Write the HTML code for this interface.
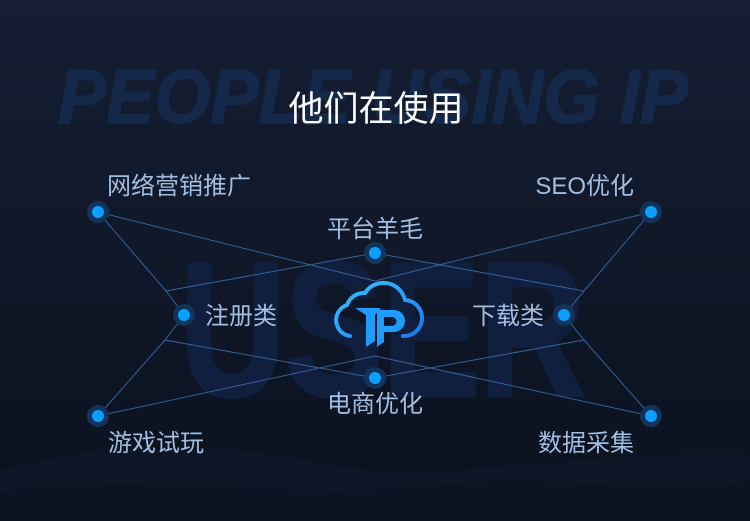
<!DOCTYPE html>
<html><head><meta charset="utf-8"><style>
html,body{margin:0;padding:0;}
body{width:750px;height:521px;overflow:hidden;background:linear-gradient(#151e34,#0b1322);}
svg{display:block}
</style></head><body>
<svg width="750" height="521" viewBox="0 0 750 521" xmlns="http://www.w3.org/2000/svg">
<defs>
<linearGradient id="bg" x1="0" y1="0" x2="0" y2="1"><stop offset="0" stop-color="#151e33"/><stop offset="1" stop-color="#0a111e"/></linearGradient>
<linearGradient id="cl" x1="0" y1="0" x2="1" y2="1"><stop offset="0" stop-color="#35c6ff"/><stop offset="1" stop-color="#1a78f0"/></linearGradient>
</defs>
<rect width="750" height="521" fill="url(#bg)"/>
<path d="M0 470 C120 440 220 445 330 465 C450 485 560 450 750 455 L750 521 L0 521Z" fill="#0e1729" opacity="0.8"/>
<path d="M0 490 C150 470 300 500 420 485 C560 470 650 495 750 480 L750 521 L0 521Z" fill="#0c1424"/>
<text x="58" y="123" font-family="Liberation Sans, sans-serif" font-weight="bold" font-style="italic" font-size="76" fill="#14284a" stroke="#14284a" stroke-width="1.5" textLength="630" lengthAdjust="spacingAndGlyphs">PEOPLE USING IP</text>
<text x="180" y="395" font-family="Liberation Sans, sans-serif" font-weight="bold" font-size="190" fill="#0f1f3d" stroke="#0f1f3d" stroke-width="4" textLength="405" lengthAdjust="spacingAndGlyphs">USER</text>
<text x="376" y="121" text-anchor="middle" font-family="Liberation Sans, Noto Sans CJK SC, sans-serif" font-size="35" fill="#ffffff">他们在使用</text>
<g stroke="#3a6aa8" stroke-width="1" fill="none" opacity="0.9">
<polyline points="98,212 166,291 184,315"/>
<polyline points="98,416 165,340 184,315"/>
<polyline points="166,291 375,253 584,291"/>
<polyline points="165,340 375,378 584,340"/>
<polyline points="98,212 375,281 651,212"/>
<polyline points="98,416 375,356 651,416"/>
<polyline points="651,212 584,291 564,315"/>
<polyline points="651,416 584,340 564,315"/>
</g>
<g fill="#0aa0ff">
<circle cx="98" cy="212" r="11" fill="#12345a"/><circle cx="98" cy="212" r="6"/>
<circle cx="98" cy="416" r="11" fill="#12345a"/><circle cx="98" cy="416" r="6"/>
<circle cx="651" cy="212" r="11" fill="#12345a"/><circle cx="651" cy="212" r="6"/>
<circle cx="651" cy="416" r="11" fill="#12345a"/><circle cx="651" cy="416" r="6"/>
<circle cx="184" cy="315" r="11" fill="#12345a"/><circle cx="184" cy="315" r="6"/>
<circle cx="564" cy="315" r="11" fill="#12345a"/><circle cx="564" cy="315" r="6"/>
<circle cx="375" cy="253" r="11" fill="#12345a"/><circle cx="375" cy="253" r="6"/>
<circle cx="375" cy="378" r="11" fill="#12345a"/><circle cx="375" cy="378" r="6"/>
</g>
<g font-family="Liberation Sans, Noto Sans CJK SC, sans-serif" font-size="24" fill="#a3bde0">
<text x="107" y="194">网络营销推广</text>
<text x="634" y="194" text-anchor="end">SEO优化</text>
<text x="375" y="237" text-anchor="middle">平台羊毛</text>
<text x="205" y="324">注册类</text>
<text x="544" y="324" text-anchor="end">下载类</text>
<text x="375" y="412" text-anchor="middle">电商优化</text>
<text x="108" y="451">游戏试玩</text>
<text x="634" y="451" text-anchor="end">数据采集</text>
</g>
<path d="M350 336 A16 16 0 0 1 347 305 A18 18 0 0 1 365 293 A22 22 0 0 1 405 300 A17 17 0 0 1 403 336" stroke="url(#cl)" stroke-width="4" fill="none" stroke-linecap="round"/>
<path d="M355 308 L381 308 L375 315 L375 341 L366 347 L366 315Z" fill="#1e9cff"/>
<path d="M377 310 L394 310 A11 11 0 0 1 394 332 L384 332 L384 342 L377 347Z M384 317 L384 326 L392 326 A4.5 4.5 0 0 0 392 317Z" fill="#1e9cff" fill-rule="evenodd"/>
</svg>
</body></html>
